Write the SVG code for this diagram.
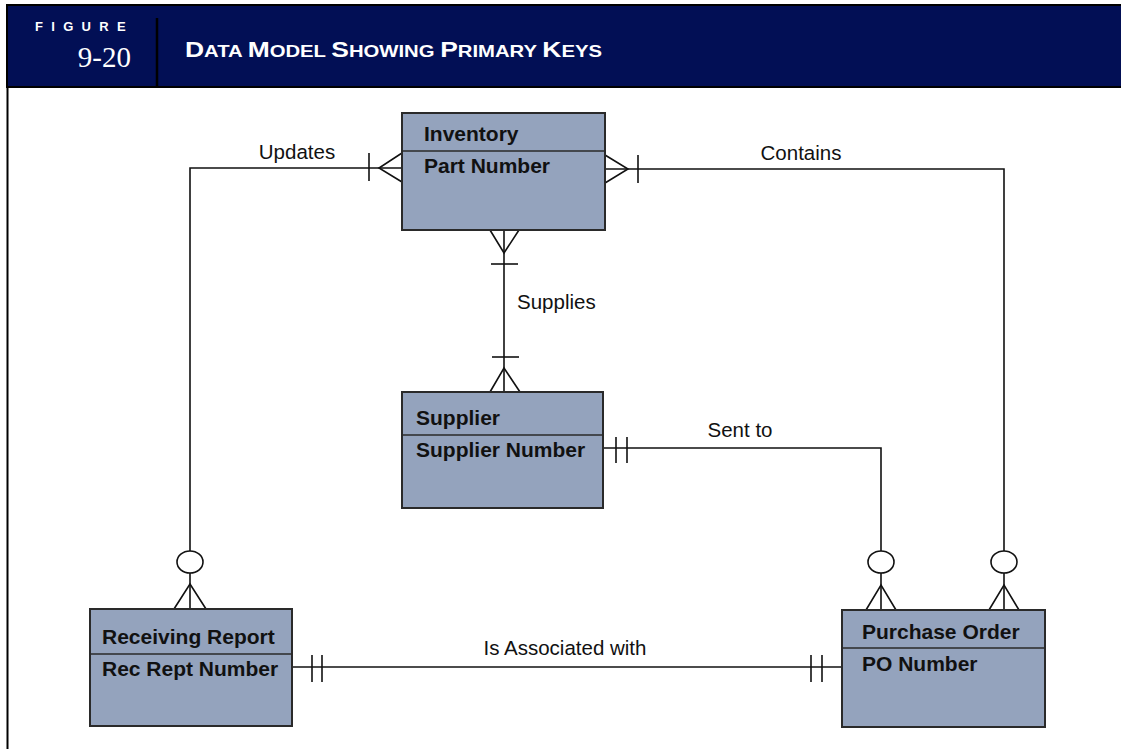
<svg xmlns="http://www.w3.org/2000/svg" width="1121" height="749" viewBox="0 0 1121 749">
<style>
.ent{fill:#94A3BD;stroke:#2a2a2a;stroke-width:2}
.div{stroke:#2a2a2a;stroke-width:1.5;fill:none}
.nt{font-family:"Liberation Sans",Arial,sans-serif;font-weight:bold;font-size:21px;fill:#111}
.lb{font-family:"Liberation Sans",Arial,sans-serif;font-size:20.5px;fill:#111}
.ln{stroke:#111;stroke-width:1.6;fill:none}
.cr{stroke:#111;stroke-width:1.6;fill:#fff}
</style>
<rect x="0" y="0" width="1121" height="749" fill="#fff"/>
<g id="header">
<rect x="6" y="4" width="1115" height="84" fill="#000"/>
<rect x="8" y="6" width="1113" height="80" fill="#020F55"/>
<line x1="157" y1="18" x2="157" y2="87" stroke="#000" stroke-width="2.5"/>
<line x1="7.5" y1="86" x2="7.5" y2="749" stroke="#000" stroke-width="2"/>
<text x="35" y="31" font-family="'Liberation Sans',Arial,sans-serif" font-weight="bold" font-size="13" fill="#fff" letter-spacing="8.3">FIGURE</text>
<text x="131" y="67" text-anchor="end" font-family="'Liberation Serif','Times New Roman',serif" font-size="29" fill="#fff">9-20</text>
<text x="185" y="57" font-family="'Liberation Sans',Arial,sans-serif" font-weight="bold" fill="#fff" font-size="16.5" textLength="417" lengthAdjust="spacingAndGlyphs"><tspan font-size="21.5">D</tspan>ATA <tspan font-size="21.5">M</tspan>ODEL <tspan font-size="21.5">S</tspan>HOWING <tspan font-size="21.5">P</tspan>RIMARY <tspan font-size="21.5">K</tspan>EYS</text>
</g>
<g id="connectors">
<polyline class="ln" points="402,168 190,168 190,551"/>
<line class="ln" x1="369" y1="153" x2="369" y2="181"/>
<polyline class="ln" points="402,153 379,168 402,182"/>
<ellipse class="cr" cx="190" cy="562" rx="13" ry="11"/>
<line class="ln" x1="190" y1="573" x2="190" y2="609"/>
<polyline class="ln" points="174,609 190,584 206,609"/>
<polyline class="ln" points="605,169 1004,169 1004,551"/>
<line class="ln" x1="638" y1="155" x2="638" y2="183"/>
<polyline class="ln" points="605,155 628,169 605,183"/>
<ellipse class="cr" cx="1004" cy="562" rx="13" ry="11"/>
<line class="ln" x1="1004" y1="573" x2="1004" y2="610"/>
<polyline class="ln" points="989,610 1004,585 1019,610"/>
<line class="ln" x1="504" y1="230" x2="504" y2="392"/>
<polyline class="ln" points="490,230 504,253 519,230"/>
<line class="ln" x1="491" y1="264" x2="518" y2="264"/>
<line class="ln" x1="492" y1="357" x2="519" y2="357"/>
<polyline class="ln" points="490,392 504,368 520,392"/>
<polyline class="ln" points="603,448 881,448 881,551"/>
<line class="ln" x1="616" y1="437" x2="616" y2="463"/>
<line class="ln" x1="627" y1="437" x2="627" y2="463"/>
<ellipse class="cr" cx="881" cy="562" rx="13" ry="11"/>
<line class="ln" x1="881" y1="573" x2="881" y2="610"/>
<polyline class="ln" points="866,610 881,585 896,610"/>
<line class="ln" x1="292" y1="667" x2="842" y2="667"/>
<line class="ln" x1="312" y1="655" x2="312" y2="682"/>
<line class="ln" x1="322" y1="655" x2="322" y2="682"/>
<line class="ln" x1="811" y1="655" x2="811" y2="682"/>
<line class="ln" x1="822" y1="655" x2="822" y2="682"/>
<text class="lb" x="297" y="159" text-anchor="middle">Updates</text>
<text class="lb" x="801" y="160" text-anchor="middle">Contains</text>
<text class="lb" x="517" y="309">Supplies</text>
<text class="lb" x="740" y="437" text-anchor="middle">Sent to</text>
<text class="lb" x="565" y="655" text-anchor="middle">Is Associated with</text>
</g>
<g id="inventory">
<rect class="ent" x="402" y="113" width="203" height="117"/>
<line class="div" x1="402" y1="151" x2="605" y2="151"/>
<text class="nt" x="424" y="141">Inventory</text>
<text class="nt" x="424" y="173">Part Number</text>
</g>
<g id="supplier">
<rect class="ent" x="402" y="392" width="201" height="116"/>
<line class="div" x1="402" y1="435" x2="603" y2="435"/>
<text class="nt" x="416" y="425">Supplier</text>
<text class="nt" x="416" y="457">Supplier Number</text>
</g>
<g id="receiving-report">
<rect class="ent" x="90" y="609" width="202" height="117"/>
<line class="div" x1="90" y1="654" x2="292" y2="654"/>
<text class="nt" x="102" y="644">Receiving Report</text>
<text class="nt" x="102" y="676">Rec Rept Number</text>
</g>
<g id="purchase-order">
<rect class="ent" x="842" y="610" width="203" height="117"/>
<line class="div" x1="842" y1="648" x2="1045" y2="648"/>
<text class="nt" x="862" y="639">Purchase Order</text>
<text class="nt" x="862" y="671">PO Number</text>
</g>
</svg>
